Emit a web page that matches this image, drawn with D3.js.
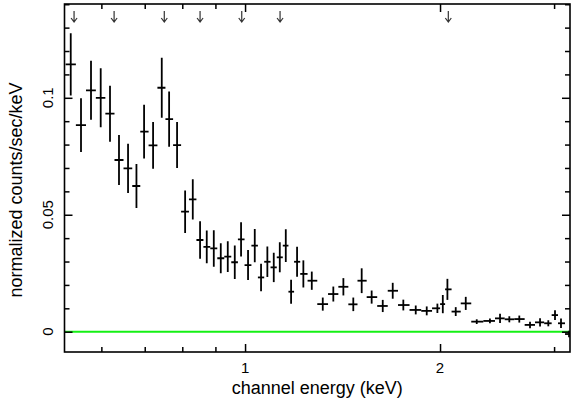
<!DOCTYPE html>
<html>
<head>
<meta charset="utf-8">
<script src="https://cdn.jsdelivr.net/npm/d3@7"></script>
<style>
  body { margin: 0; background: #fff; }
  svg { display: block; font-family: "Liberation Sans", Arial, Helvetica, sans-serif; }
</style>
</head>
<body>
<div id="chart"></div>
<script>
// spectrum bins: channel energy (keV), rate and 1-sigma error
const energy = [0.5381, 0.5581, 0.5783, 0.5986, 0.6187, 0.6388, 0.6597, 0.6797, 0.6984, 0.7211,
  0.7437, 0.7634, 0.7853, 0.8081, 0.8304, 0.8522, 0.8727, 0.8948, 0.9173, 0.9404,
  0.9641, 0.9859, 1.0107, 1.0351, 1.0585, 1.0825, 1.1074, 1.1314, 1.1558, 1.1778,
  1.2031, 1.2303, 1.2677, 1.3182, 1.3686, 1.4184, 1.4693, 1.5138, 1.5684, 1.6315,
  1.6904, 1.7553, 1.8345, 1.9076, 1.9813, 2.0198, 2.0531, 2.1148, 2.1915, 2.2788,
  2.3882, 2.4755, 2.5586, 2.6510, 2.7540, 2.8538, 2.9390, 3.0098, 3.0747, 3.1637];
const rate = [0.1143, 0.0883, 0.1032, 0.1000, 0.0932, 0.0734, 0.0698, 0.0623, 0.0855, 0.0797,
  0.1043, 0.0909, 0.0798, 0.0513, 0.0566, 0.0392, 0.0363, 0.0356, 0.0314, 0.0321,
  0.0297, 0.0395, 0.0285, 0.0368, 0.0232, 0.0299, 0.0275, 0.0318, 0.0368, 0.0171,
  0.0299, 0.0247, 0.0218, 0.0118, 0.0161, 0.0192, 0.0117, 0.0218, 0.0148, 0.0110,
  0.0175, 0.0114, 0.0093, 0.0089, 0.0100, 0.0118, 0.0181, 0.0086, 0.0121, 0.0043,
  0.0046, 0.0057, 0.0053, 0.0054, 0.0029, 0.0040, 0.0036, 0.0071, 0.0036, -0.0010];
const rateErr = [0.0133, 0.0115, 0.0126, 0.0126, 0.0120, 0.0107, 0.0105, 0.0094, 0.0115, 0.0100,
  0.0128, 0.0118, 0.0098, 0.0091, 0.0086, 0.0080, 0.0070, 0.0078, 0.0064, 0.0066,
  0.0072, 0.0073, 0.0064, 0.0071, 0.0059, 0.0065, 0.0063, 0.0064, 0.0070, 0.0051,
  0.0064, 0.0058, 0.0039, 0.0028, 0.0032, 0.0037, 0.0029, 0.0053, 0.0028, 0.0026,
  0.0034, 0.0023, 0.0019, 0.0019, 0.0020, 0.0039, 0.0045, 0.0019, 0.0028, 0.0010,
  0.0010, 0.0020, 0.0013, 0.0015, 0.0014, 0.0018, 0.0013, 0.0021, 0.0020, 0.0014];

// line markers along the top
const lineEnergies = [0.5445, 0.6278, 0.7504, 0.8522, 0.9883, 1.1325, 2.0597];

const xMajor = [1, 2];
const xMinor = [0.6, 0.7, 0.8, 0.9, 3];
const yMajor = [0, 0.05, 0.1];
const yMinor = [0.01, 0.02, 0.03, 0.04, 0.06, 0.07, 0.08, 0.09, 0.11, 0.12, 0.13, 0.14];

const width = 571;
const height = 403;
const plotLeft = 64.5, plotRight = 570, plotTop = 4, plotBottom = 352;

const x = d3.scaleLog().domain([0.5263, 3.1746]).range([plotLeft, plotRight]);
const y = d3.scaleLinear().domain([-0.00868, 0.1401]).range([plotBottom, plotTop]);

const svg = d3.select("#chart")
  .append("svg")
  .attr("width", width)
  .attr("height", height);

svg.append("defs").append("clipPath")
  .attr("id", "plotClip")
  .append("rect")
  .attr("x", plotLeft).attr("y", plotTop)
  .attr("width", plotRight - plotLeft).attr("height", plotBottom - plotTop);

// bin edges halfway (in log) between neighbouring channels
const logE = energy.map(e => Math.log10(e));
const edges = logE.map((v, i) => {
  const prev = i > 0 ? (v + logE[i - 1]) / 2 : v - (logE[1] - logE[0]) / 2;
  const next = i < logE.length - 1 ? (v + logE[i + 1]) / 2 : v + (v - logE[i - 1]) / 2;
  return [Math.pow(10, prev), Math.pow(10, next)];
});

const points = energy.map((e, i) => ({
  e: e, lo: edges[i][0], hi: edges[i][1], v: rate[i], err: rateErr[i]
}));

const plot = svg.append("g").attr("clip-path", "url(#plotClip)");

// model (zero) line
plot.append("line")
  .attr("x1", plotLeft).attr("x2", plotRight)
  .attr("y1", y(0)).attr("y2", y(0))
  .attr("stroke", "#14f014")
  .attr("stroke-width", 2);

const bars = plot.selectAll(".pt")
  .data(points)
  .enter()
  .append("g")
  .attr("class", "pt")
  .attr("stroke", "#000")
  .attr("stroke-width", 1.8);

bars.append("line")
  .attr("x1", d => x(d.e)).attr("x2", d => x(d.e))
  .attr("y1", d => y(d.v - d.err)).attr("y2", d => y(d.v + d.err));

bars.append("line")
  .attr("x1", d => x(d.lo)).attr("x2", d => x(d.hi))
  .attr("y1", d => y(d.v)).attr("y2", d => y(d.v));

// arrows
svg.selectAll(".arrow")
  .data(lineEnergies)
  .enter()
  .append("path")
  .attr("class", "arrow")
  .attr("d", d => {
    const px = x(d);
    return `M${px},11V22M${px - 3},18L${px},22L${px + 3},18`;
  })
  .attr("fill", "none")
  .attr("stroke", "#333")
  .attr("stroke-width", 1.2);

// axes: ticks pointing inwards
function tickAxis(axis, values, size) {
  return axis.tickValues(values).tickSizeInner(-size).tickSizeOuter(0).tickFormat("");
}

const axes = [
  [d3.axisBottom(x), `translate(0,${plotBottom})`, xMinor, 5],
  [d3.axisBottom(x), `translate(0,${plotBottom})`, xMajor, 8],
  [d3.axisTop(x), `translate(0,${plotTop})`, xMinor, 5],
  [d3.axisTop(x), `translate(0,${plotTop})`, xMajor, 8],
  [d3.axisLeft(y), `translate(${plotLeft},0)`, yMinor, 5],
  [d3.axisLeft(y), `translate(${plotLeft},0)`, yMajor, 8],
  [d3.axisRight(y), `translate(${plotRight},0)`, yMinor, 5],
  [d3.axisRight(y), `translate(${plotRight},0)`, yMajor, 8]
];

axes.forEach(([axis, tr, vals, size]) => {
  const g = svg.append("g")
    .attr("transform", tr)
    .call(tickAxis(axis, vals, size));
  g.select(".domain").remove();
  g.selectAll(".tick line").attr("stroke", "#000").attr("stroke-width", 1.5);
});

svg.append("rect")
  .attr("x", plotLeft).attr("y", plotTop)
  .attr("width", plotRight - plotLeft).attr("height", plotBottom - plotTop)
  .attr("fill", "none")
  .attr("stroke", "#000")
  .attr("stroke-width", 1.6);

// tick labels
svg.selectAll(".xlab")
  .data(xMajor)
  .enter()
  .append("text")
  .attr("x", d => x(d))
  .attr("y", 373)
  .attr("text-anchor", "middle")
  .attr("font-size", "15px")
  .text(d => d);

svg.selectAll(".ylab")
  .data(yMajor)
  .enter()
  .append("text")
  .attr("transform", d => `translate(53,${y(d)}) rotate(-90)`)
  .attr("text-anchor", "middle")
  .attr("font-size", "15px")
  .text(d => d);

svg.append("text")
  .attr("x", (plotLeft + plotRight) / 2)
  .attr("y", 394)
  .attr("text-anchor", "middle")
  .attr("font-size", "18px")
  .text("channel energy (keV)");

svg.append("text")
  .attr("transform", "translate(22,190) rotate(-90)")
  .attr("text-anchor", "middle")
  .attr("font-size", "18px")
  .text("normalized counts/sec/keV");
</script>
</body>
</html>
